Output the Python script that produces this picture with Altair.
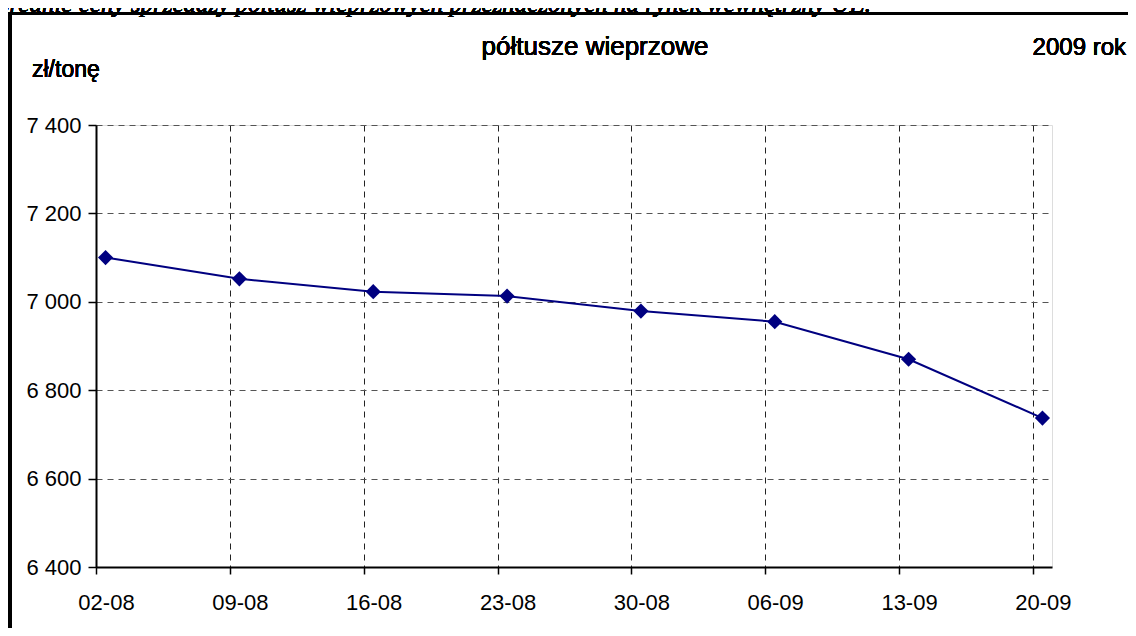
import altair as alt
import pandas as pd

# --- data ---
dates = ["2009-08-02", "2009-08-09", "2009-08-16", "2009-08-23",
         "2009-08-30", "2009-09-06", "2009-09-13", "2009-09-20"]
prices = [7100, 7052, 7023, 7013, 6979, 6955, 6870, 6737]
y_ticks = [6400, 6600, 6800, 7000, 7200, 7400]

page_title = "Średnie ceny sprzedaży półtusz wieprzowych przeznaczonych na rynek wewnętrzny UE."
chart_title = "półtusze wieprzowe"
year_label = "2009 rok"
unit_label = "zł/tonę"

DAY = 24 * 3600 * 1000
ms = [int(pd.Timestamp(d, tz="UTC").value // 10**6) for d in dates]
df = pd.DataFrame({"t": [m + DAY // 2 for m in ms], "price": prices})

x_scale = alt.Scale(type="utc", domain=[ms[0], ms[-1] + DAY], nice=False)
y_scale = alt.Scale(domain=[6400, 7400], nice=False, zero=False)

FONT = "Arial"

x_enc = alt.X("t:T", scale=x_scale, title=None,
              axis=alt.Axis(values=ms, labelExpr="utcFormat(datum.value, '%d-%m')",
                            grid=True, gridDash=[6, 5], gridColor="#222", gridWidth=1,
                            domainColor="black", domainWidth=2,
                            tickColor="black", tickWidth=1.5, tickSize=7,
                            labelOffset=10, labelPadding=18, labelFlush=False,
                            labelFont=FONT, labelFontSize=22, labelFontWeight="normal",
                            labelColor="black"))
y_enc = alt.Y("price:Q", scale=y_scale, title=None,
              axis=alt.Axis(values=y_ticks,
                            labelExpr="replace(format(datum.value, ',d'), ',', ' ')",
                            grid=True, gridDash=[6, 5], gridColor="#555", gridWidth=1.2,
                            domainColor="black", domainWidth=2,
                            tickColor="black", tickWidth=1.5, tickSize=8,
                            labelPadding=7,
                            labelFont=FONT, labelFontSize=22, labelFontWeight="normal",
                            labelColor="black"))

line = alt.Chart(df).mark_line(color="#000080", strokeWidth=2).encode(x=x_enc, y=y_enc)
pts = alt.Chart(df).mark_point(shape="diamond", filled=True, size=230,
                               color="#000080", opacity=1).encode(x="t:T", y="price:Q")

frame_left = alt.Chart(df).mark_rule(color="black", strokeWidth=3).encode(
    x=alt.value(-86), y=alt.value(-113), y2=alt.value(600))
frame_top = alt.Chart(df).mark_rule(color="black", strokeWidth=3).encode(
    x=alt.value(-87.5), x2=alt.value(1200), y=alt.value(-111.5))

t_page = alt.Chart(df).mark_text(text=page_title, font="Liberation Serif", fontStyle="italic",
                                 fontSize=25, align="left", baseline="alphabetic",
                                 color="black").encode(x=alt.value(-99), y=alt.value(-113))
t_title = alt.Chart(df).mark_text(text=chart_title, font=FONT, fontSize=26, fontWeight="normal",
                                  align="center", baseline="alphabetic", color="black").encode(
    x=alt.value(499), y=alt.value(-70))
t_year = alt.Chart(df).mark_text(text=year_label, font=FONT, fontSize=24, fontWeight="normal",
                                 align="right", baseline="alphabetic", color="black").encode(
    x=alt.value(1030), y=alt.value(-70))
t_unit = alt.Chart(df).mark_text(text=unit_label, font=FONT, fontSize=23, fontWeight="normal",
                                 align="left", baseline="alphabetic", color="black").encode(
    x=alt.value(-64), y=alt.value(-48))

chart = alt.layer(line, pts, frame_left, frame_top, t_page, t_title, t_year, t_unit).properties(
    width=956, height=442,
    autosize=alt.AutoSizeParams(type="none"),
    padding={"left": 88, "top": 117, "right": 76, "bottom": 61},
).configure_view(stroke=None).configure(background="white")

chart.save("out.html", embed_options={"renderer": "svg", "actions": False})
